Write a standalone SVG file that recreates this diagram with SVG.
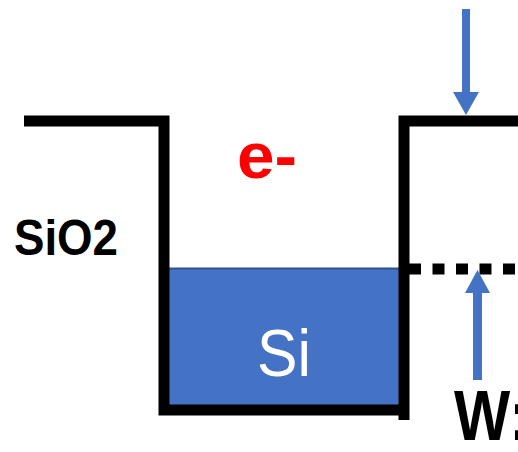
<svg xmlns="http://www.w3.org/2000/svg" width="518" height="452" viewBox="0 0 518 452">
<style>
.wall{fill:none;stroke:#000;stroke-width:11;stroke-linejoin:miter;stroke-linecap:butt}
.arrow{fill:#4472C4}
.t{font-family:"Liberation Sans",Arial,sans-serif}
</style>
<rect width="518" height="452" fill="#fff"/>
<g id="si">
<rect x="169" y="268" width="230" height="138" fill="#4472C4"/>
<line x1="169" y1="268.5" x2="399" y2="268.5" stroke="#2F528F" stroke-width="2"/>
<text class="t" x="257" y="376" font-size="66" fill="#fff" textLength="54" lengthAdjust="spacingAndGlyphs">Si</text>
</g>
<g id="walls">
<polyline class="wall" points="24,121 164,121 164,410 404,410"/>
<polyline class="wall" points="404,420 404,121 518,121"/>
</g>
<g id="connectors">
<line x1="409" y1="269" x2="518" y2="269" stroke="#000" stroke-width="11" stroke-dasharray="12 11.5"/>
<g id="arrow-down">
<rect class="arrow" x="462" y="9" width="8" height="84"/>
<polygon class="arrow" points="453,92 479,92 466,115"/>
</g>
<g id="arrow-up">
<rect class="arrow" x="473" y="292" width="9" height="88"/>
<polygon class="arrow" points="465,293 490,293 477.5,270"/>
</g>
</g>
<g id="labels">
<text class="t" x="237" y="178" font-size="64" font-weight="bold" fill="#FF0000" textLength="60" lengthAdjust="spacingAndGlyphs">e-</text>
<text class="t" x="14" y="255" font-size="50" font-weight="bold" fill="#000" textLength="104" lengthAdjust="spacingAndGlyphs">SiO2</text>
<text class="t" x="454" y="440" font-size="70" font-weight="bold" fill="#000" textLength="75" lengthAdjust="spacingAndGlyphs">W:</text>
</g>
</svg>
